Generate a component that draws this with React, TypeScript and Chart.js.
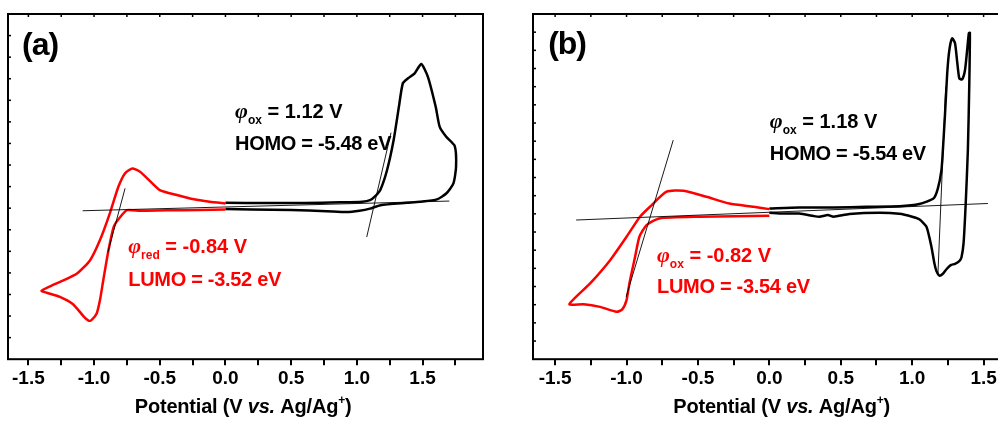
import React, { useEffect, useRef } from 'react';
import { Chart, registerables } from 'chart.js';

Chart.register(...registerables);

const FONT = '"Liberation Sans", Arial, sans-serif';
const PHI_FONT = '"Liberation Serif", "Times New Roman", serif';

// ---- axes ----
const X_TICKS = [-1.5, -1.25, -1.0, -0.75, -0.5, -0.25, 0, 0.25, 0.5, 0.75, 1.0, 1.25, 1.5, 1.75];
const X_LABELED = [-1.5, -1.0, -0.5, 0, 0.5, 1.0, 1.5];
const X_MIN = -1.655;
const X_MAX_A = 1.96;
const X_MAX_B = 1.86;
const Y_MAX_A = 16;
const Y_MAX_B = 19;
const Y_TICKS_A = [1, 2, 3, 4, 5, 6, 7, 8, 9, 10, 11, 12, 13, 14, 15];
const Y_TICKS_B = [1, 2, 3, 4, 5, 6, 7, 8, 9, 10, 11, 12, 13, 14, 15, 16, 17, 18];

// ---- panel (a) ----
const A_BLACK_V = [0.00, 0.30, 0.60, 0.87, 1.04, 1.10, 1.14, 1.18, 1.23, 1.28, 1.32, 1.35, 1.39, 1.44, 1.49, 1.54, 1.60, 1.63, 1.68, 1.745, 1.755, 1.735, 1.68, 1.61, 1.48, 1.38, 1.18, 1.10, 1.02, 0.92, 0.77, 0.50, 0.20, 0.00];
const A_BLACK_I = [7.25, 7.24, 7.24, 7.27, 7.30, 7.37, 7.56, 7.87, 8.77, 10.16, 11.70, 12.79, 13.02, 13.25, 13.68, 13.10, 11.70, 10.78, 10.31, 9.88, 8.92, 8.15, 7.68, 7.41, 7.30, 7.25, 7.14, 6.98, 6.88, 6.82, 6.86, 6.91, 6.94, 6.96];
const A_RED_V = [0.00, -0.20, -0.45, -0.65, -0.75, -0.81, -0.85, -0.89, -0.93, -0.955, -0.98, -1.02, -1.04, -1.08, -1.16, -1.26, -1.36, -1.40, -1.33, -1.23, -1.13, -1.03, -0.955, -0.88, -0.815, -0.765, -0.71, -0.65, -0.57, -0.50, -0.37, -0.24, -0.12, 0.00];
const A_RED_I = [6.94, 6.91, 6.90, 6.88, 6.91, 6.52, 6.14, 5.06, 3.66, 2.74, 2.12, 1.81, 1.78, 1.99, 2.55, 2.89, 3.08, 3.17, 3.39, 3.66, 3.97, 4.59, 5.52, 6.76, 7.99, 8.61, 8.84, 8.69, 8.23, 7.84, 7.61, 7.41, 7.30, 7.22];
const A_BASE_V = [-1.087, 1.704];
const A_BASE_I = [6.88, 7.33];
const A_RED_TAN_V = [-0.764, -0.895];
const A_RED_TAN_I = [7.92, 4.95];
const A_BLACK_TAN_V = [1.075, 1.26];
const A_BLACK_TAN_I = [5.66, 10.5];

// ---- panel (b) ----
const B_BLACK_V = [0.00, 0.21, 0.45, 0.68, 0.91, 1.05, 1.15, 1.18, 1.205, 1.215, 1.23, 1.245, 1.26, 1.28, 1.30, 1.315, 1.33, 1.35, 1.37, 1.385, 1.397, 1.404, 1.40, 1.39, 1.375, 1.36, 1.345, 1.33, 1.30, 1.27, 1.24, 1.215, 1.19, 1.17, 1.155, 1.135, 1.10, 1.05, 1.00, 0.91, 0.77, 0.56, 0.45, 0.41, 0.35, 0.31, 0.21, 0.10, 0.00];
const B_BLACK_I = [8.30, 8.35, 8.35, 8.39, 8.42, 8.54, 8.85, 9.40, 10.41, 11.51, 13.50, 15.70, 17.00, 17.66, 17.39, 16.38, 15.46, 15.40, 15.92, 17.02, 17.94, 17.97, 15.18, 11.51, 8.60, 6.40, 5.60, 5.40, 5.25, 5.18, 4.95, 4.70, 4.60, 4.85, 5.30, 6.18, 7.29, 7.70, 7.84, 8.00, 8.06, 7.99, 7.84, 7.93, 7.84, 7.88, 8.02, 8.02, 8.06];
const B_RED_V = [0.00, -0.49, -0.77, -0.86, -0.91, -0.94, -0.98, -1.00, -1.03, -1.07, -1.185, -1.30, -1.40, -1.255, -1.115, -1.00, -0.906, -0.836, -0.72, -0.60, -0.44, -0.28, -0.11, 0.00];
const B_RED_I = [7.89, 7.84, 7.75, 7.38, 6.74, 5.64, 4.17, 3.25, 2.74, 2.61, 2.88, 3.03, 3.03, 4.17, 5.45, 6.74, 7.84, 8.39, 9.22, 9.27, 8.94, 8.57, 8.39, 8.26];
const B_BASE_V = [-1.353, 1.530];
const B_BASE_I = [7.66, 8.57];
const B_RED_TAN_V = [-1.003, -0.673];
const B_RED_TAN_I = [3.43, 12.06];
const B_BLACK_TAN_V = [1.180, 1.235];
const B_BLACK_TAN_I = [4.63, 15.0];

type Run = { t: string; font: string; dy?: number };
type Note = { x: number; y: number; color: string; runs: Run[]; spacing?: number };

const bold = (s: number) => `bold ${s}px ${FONT}`;
const phi = `italic bold 22px ${PHI_FONT}`;

const NOTES_A: Note[] = [
  { x: -1.548, y: 14.1, color: '#000', spacing: -1, runs: [{ t: '(a)', font: bold(32) }] },
  { x: 0.073, y: 11.18, color: '#000', runs: [{ t: 'φ', font: phi }, { t: 'ox', font: bold(12), dy: 6 }, { t: ' = 1.12 V', font: bold(20) }] },
  { x: 0.073, y: 9.69, color: '#000', spacing: -0.3, runs: [{ t: 'HOMO = -5.48 eV', font: bold(20) }] },
  { x: -0.74, y: 4.92, color: '#ff0000', runs: [{ t: 'φ', font: phi }, { t: 'red', font: bold(12), dy: 6 }, { t: ' = -0.84 V', font: bold(20) }] },
  { x: -0.74, y: 3.39, color: '#ff0000', spacing: -0.3, runs: [{ t: 'LUMO = -3.52 eV', font: bold(20) }] },
];
const NOTES_B: Note[] = [
  { x: -1.549, y: 16.8, color: '#000', spacing: -1, runs: [{ t: '(b)', font: bold(32) }] },
  { x: 0.003, y: 12.72, color: '#000', runs: [{ t: 'φ', font: phi }, { t: 'ox', font: bold(12), dy: 6 }, { t: ' = 1.18 V', font: bold(20) }] },
  { x: 0.003, y: 10.96, color: '#000', spacing: -0.3, runs: [{ t: 'HOMO = -5.54 eV', font: bold(20) }] },
  { x: -0.787, y: 5.34, color: '#ff0000', runs: [{ t: 'φ', font: phi }, { t: 'ox', font: bold(12), dy: 6 }, { t: ' = -0.82 V', font: bold(20) }] },
  { x: -0.787, y: 3.63, color: '#ff0000', spacing: -0.3, runs: [{ t: 'LUMO = -3.54 eV', font: bold(20) }] },
];

const TITLE_RUNS: Run[] = [
  { t: 'Potential (V ', font: bold(20) },
  { t: 'vs.', font: `italic bold 20px ${FONT}` },
  { t: ' Ag/Ag', font: bold(20) },
  { t: '+', font: bold(12), dy: -9 },
  { t: ')', font: bold(20) },
];

function measureRuns(ctx: CanvasRenderingContext2D, runs: Run[]) {
  let w = 0;
  for (const r of runs) {
    ctx.font = r.font;
    w += ctx.measureText(r.t).width;
  }
  return w;
}

function drawRuns(ctx: CanvasRenderingContext2D, runs: Run[], x: number, y: number, color: string, spacing = 0) {
  ctx.fillStyle = color;
  ctx.textAlign = 'left';
  ctx.textBaseline = 'alphabetic';
  (ctx as any).letterSpacing = `${spacing}px`;
  let cx = x;
  for (const r of runs) {
    ctx.font = r.font;
    ctx.fillText(r.t, cx, y + (r.dy || 0));
    cx += ctx.measureText(r.t).width;
  }
  (ctx as any).letterSpacing = '0px';
}

function makeFramePlugin(yTicks: number[], notes: Note[]) {
  return {
    id: 'frameAndNotes',
    afterDraw(chart: any) {
      const { ctx, chartArea: ca, scales } = chart;
      ctx.save();
      ctx.strokeStyle = '#000';
      ctx.lineWidth = 2;
      ctx.strokeRect(ca.left, ca.top, ca.right - ca.left, ca.bottom - ca.top);
      ctx.lineWidth = 1.5;
      for (const v of yTicks) {
        const y = scales.y.getPixelForValue(v);
        ctx.beginPath();
        ctx.moveTo(ca.left, y);
        ctx.lineTo(ca.left + 3, y);
        ctx.stroke();
      }
      for (const v of X_TICKS) {
        const x = scales.x.getPixelForValue(v);
        ctx.beginPath();
        ctx.moveTo(x, ca.top);
        ctx.lineTo(x, ca.top + 3);
        ctx.stroke();
      }
      for (const n of notes) {
        drawRuns(ctx, n.runs, scales.x.getPixelForValue(n.x), scales.y.getPixelForValue(n.y), n.color, n.spacing || 0);
      }
      const tw = measureRuns(ctx, TITLE_RUNS);
      drawRuns(ctx, TITLE_RUNS, (ca.left + ca.right) / 2 - tw / 2, ca.bottom + 54, '#000', -0.2);
      ctx.restore();
    },
  };
}

type PanelCfg = {
  xMax: number; yMax: number; yTicks: number[]; notes: Note[];
  padL: number; padR: number;
  redV: number[]; redI: number[]; blackV: number[]; blackI: number[];
  lines: [number[], number[]][];
};

function line(v: number[], i: number[], color: string, width: number, order: number, tension: number) {
  return {
    data: v.map((x, k) => ({ x, y: i[k] })),
    borderColor: color,
    backgroundColor: color,
    borderWidth: width,
    showLine: true,
    pointRadius: 0,
    fill: false,
    tension,
    order,
  };
}

function makeConfig(p: PanelCfg): any {
  return {
    type: 'scatter',
    data: {
      datasets: [
        line(p.redV, p.redI, '#ff0000', 2.5, 2, 0.2),
        line(p.blackV, p.blackI, '#000000', 2.5, 1, 0.2),
        ...p.lines.map(([v, i]) => line(v, i, 'rgba(0,0,0,0.9)', 1, 0, 0)),
      ],
    },
    options: {
      animation: false,
      responsive: false,
      events: [],
      layout: { padding: { left: p.padL, right: p.padR, top: 14, bottom: 29 } },
      plugins: { legend: { display: false }, tooltip: { enabled: false } },
      scales: {
        x: {
          type: 'linear',
          min: X_MIN,
          max: p.xMax,
          afterBuildTicks: (s: any) => { s.ticks = X_TICKS.map((value) => ({ value })); },
          ticks: {
            autoSkip: false,
            maxRotation: 0,
            padding: 2,
            color: '#000',
            font: { family: FONT, size: 19, weight: 'bold' },
            callback: (val: any) => (X_LABELED.some((l) => Math.abs(l - Number(val)) < 1e-6) ? Number(val).toFixed(1) : ''),
          },
          grid: { drawOnChartArea: false, drawTicks: true, tickLength: 6, lineWidth: 2, color: '#000', tickColor: '#000' },
          border: { display: false },
        },
        y: { type: 'linear', display: false, min: 0, max: p.yMax },
      },
    },
    plugins: [makeFramePlugin(p.yTicks, p.notes)],
  };
}

const PANEL_A: PanelCfg = {
  xMax: X_MAX_A, yMax: Y_MAX_A, yTicks: Y_TICKS_A, notes: NOTES_A, padL: 8, padR: 17,
  redV: A_RED_V, redI: A_RED_I, blackV: A_BLACK_V, blackI: A_BLACK_I,
  lines: [[A_BASE_V, A_BASE_I], [A_RED_TAN_V, A_RED_TAN_I], [A_BLACK_TAN_V, A_BLACK_TAN_I]],
};
const PANEL_B: PanelCfg = {
  xMax: X_MAX_B, yMax: Y_MAX_B, yTicks: Y_TICKS_B, notes: NOTES_B, padL: 33, padR: 25,
  redV: B_RED_V, redI: B_RED_I, blackV: B_BLACK_V, blackI: B_BLACK_I,
  lines: [[B_BASE_V, B_BASE_I], [B_RED_TAN_V, B_RED_TAN_I], [B_BLACK_TAN_V, B_BLACK_TAN_I]],
};

function Panel({ cfg, left, width }: { cfg: PanelCfg; left: number; width: number }) {
  const ref = useRef<HTMLCanvasElement>(null);
  useEffect(() => {
    const chart = new Chart(ref.current as HTMLCanvasElement, makeConfig(cfg));
    return () => chart.destroy();
  }, [cfg]);
  return (
    <canvas
      ref={ref}
      width={width}
      height={421}
      style={{ position: 'absolute', left, top: 0, width, height: 421, display: 'block' }}
    />
  );
}

export default function App() {
  return (
    <div style={{ position: 'fixed', left: 0, top: 0, width: 998, height: 421, overflow: 'hidden', background: '#fff' }}>
      <Panel cfg={PANEL_A} left={0} width={500} />
      <Panel cfg={PANEL_B} left={500} width={560} />
    </div>
  );
}
